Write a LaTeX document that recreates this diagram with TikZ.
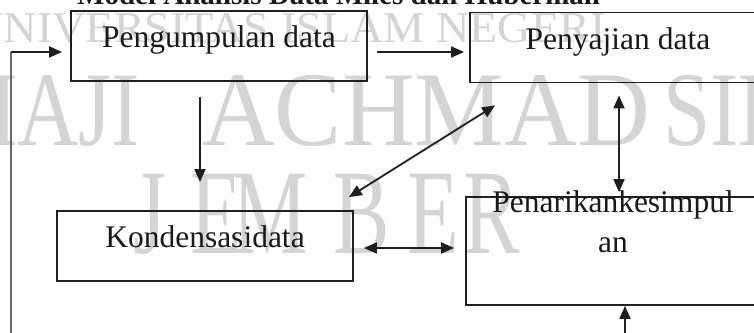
\documentclass[tikz,border=0pt]{standalone}
\usepackage{fontspec}
\setmainfont{Liberation Serif}
\usetikzlibrary{arrows.meta}
\begin{document}
\begin{tikzpicture}[x=1pt,y=-1pt,
  box/.style={draw=black!88, line width=1.8pt, inner sep=0pt, minimum width=296pt, minimum height=70pt,
    font=\fontsize{31.5}{40}\selectfont, text=black!90, text height=0.6em, text depth=0.22em, align=center},
  tip/.style={Triangle[length=13pt,width=11pt]},
  arr/.style={line width=1.8pt, draw=black!88, -{Triangle[length=13pt,width=11pt]}},
  darr/.style={line width=1.8pt, draw=black!88, {Triangle[length=13pt,width=11pt]}-{Triangle[length=13pt,width=11pt]}},
  fbline/.style={line width=1.2pt, draw=black!60},
  wm/.style={text=black!17, inner sep=0pt, anchor=base west}]
\useasboundingbox (0,0) rectangle (754,332);
\clip (0,0) rectangle (754,332);
\fill[white] (0,0) rectangle (754,332);
% watermark
\node[wm, anchor=base east, font=\fontsize{44}{44}\selectfont] (wm1) at (606,42) {\scalebox{1.05}[1]{UNIVERSITAS ISLAM NEGERI}};
\node[wm, anchor=base east, font=\fontsize{106}{106}\selectfont] (wm2a) at (140,145) {\scalebox{0.8}[1]{KIAI HAJI}};
\node[wm, font=\fontsize{106}{106}\selectfont] (wm2b) at (202,145) {\scalebox{0.95}[1]{ACHMAD}};
\node[wm, font=\fontsize{106}{106}\selectfont] (wm2c) at (663,145) {\scalebox{0.8}[1]{SIDDIQ}};
\foreach \l/\x in {J/133, E/190, M/232, B/333, E/407, R/463}
  \node[wm, font=\fontsize{121}{121}\selectfont] (wm3-\x) at (\x,253) {\scalebox{0.7}[1]{\l}};
% title
\node[inner sep=0pt, anchor=base west, font=\bfseries\fontsize{29}{29}\selectfont, text=black!90] (title) at (77,5) {Model Analisis Data Miles dan Huberman};
% boxes
\node[box] (peng) at (219,46) {Pengumpulan data};
\node[box] (peny) at (618,47.5) {Penyajian data};
\node[box] (kond) at (205,246) {Kondensasidata};
\node[box, minimum width=294pt, minimum height=108pt] (pena) at (613,251) {Penarikankesimpul\\an};
% connectors
\coordinate (fb) at (11,340);
\coordinate (fbc) at (11,52);
\draw[fbline] (fb) -- (fbc);
\draw[arr] (fbc) -- ([xshift=-8pt,yshift=-6pt]peng.west);
\draw[arr] ([xshift=9pt,yshift=-6pt]peng.east) -- ([xshift=-5pt,yshift=-4.5pt]peny.west);
\draw[arr] ([xshift=-19pt,yshift=-15pt]peng.south) -- ([xshift=-5pt,yshift=28pt]kond.north);
\draw[darr] ([xshift=-5pt,yshift=13pt]kond.north east) -- ([xshift=26pt,yshift=-22pt]peny.south west);
\draw[darr] ([xshift=1pt,yshift=-12pt]peny.south) -- ([xshift=6pt,yshift=4pt]pena.north);
\draw[darr] ([xshift=10pt,yshift=-2pt]kond.east) -- ([xshift=-11pt,yshift=3pt]pena.west);
\coordinate (bt) at (625,340);
\draw[arr] (bt) -- ([xshift=12pt]pena.south);
\end{tikzpicture}
\end{document}
